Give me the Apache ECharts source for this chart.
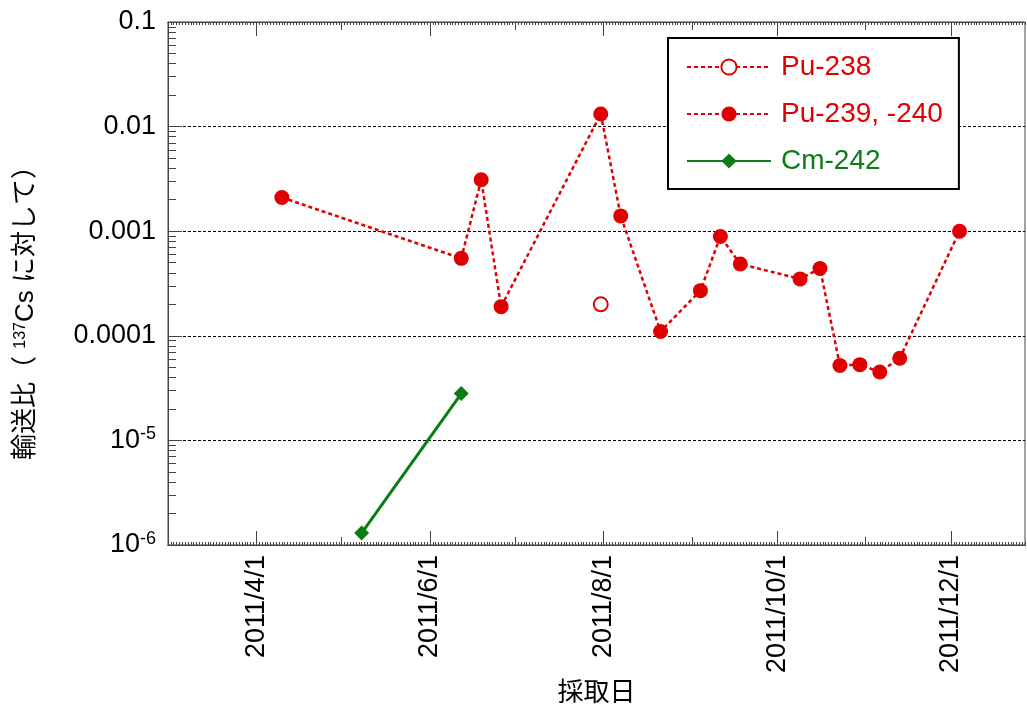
<!DOCTYPE html>
<html>
<head>
<meta charset="utf-8">
<script src="https://cdn.jsdelivr.net/npm/echarts@6/dist/echarts.min.js"></script>
<style>
html,body{margin:0;padding:0;background:#fff;}
#chart{width:1027px;height:712px;}
</style>
</head>
<body>
<div id="chart"></div>
<script>
// ---- data ----
const pu239Dates = ['2011-04-10','2011-06-12','2011-06-19','2011-06-26','2011-07-31','2011-08-07','2011-08-21','2011-09-04','2011-09-11','2011-09-18','2011-10-09','2011-10-16','2011-10-23','2011-10-30','2011-11-06','2011-11-13','2011-12-04'];
const pu239Values = [2.1e-3, 5.5e-4, 3.1e-3, 1.9e-4, 1.32e-2, 1.4e-3, 1.1e-4, 2.7e-4, 8.9e-4, 4.85e-4, 3.5e-4, 4.4e-4, 5.2e-5, 5.3e-5, 4.5e-5, 6.1e-5, 1.0e-3];
const pu238Dates = ['2011-07-31'];
const pu238Values = [2.0e-4];
const cm242Dates = ['2011-05-08','2011-06-12'];
const cm242Values = [1.3e-6, 2.8e-5];

const seriesNames = ['Pu-238', 'Pu-239, -240', 'Cm-242'];
const xLabelDates = ['2011-04-01','2011-06-01','2011-08-01','2011-10-01','2011-12-01'];
const xMinorMonthDates = ['2011-03-01','2011-05-01','2011-07-01','2011-09-01','2011-11-01'];
const xRange = ['2011-03-01','2011-12-27'];
const yRange = [1e-6, 0.1];
const xTitle = '採取日';

// ---- helpers ----
function ts(s){ const p = s.split('-').map(Number); return Date.UTC(p[0], p[1]-1, p[2]); }
function pairs(d, v){ return d.map((x,i)=>[ts(x), v[i]]); }
const DAY = 86400000;
const xMin = ts(xRange[0]), xMax = ts(xRange[1]);
const dailyTicks = [];
for (let t = xMin; t <= xMax; t += DAY) dailyTicks.push(t);
const majorX = xLabelDates.map(ts);
const minorX = xMinorMonthDates.map(ts);
const yMinor = [];
for (let e = -6; e < -1; e++) for (let k = 2; k <= 9; k++) yMinor.push(k * Math.pow(10, e));

const RED = '#e00000';
const GREEN = '#0a7d14';
const AX = '#444';
const FONT = '"Liberation Sans", Arial, sans-serif';
const JFONT = '"Liberation Sans", "Noto Sans CJK JP", sans-serif';

function xAxisDef(pos, ticks, len, withLabels){
  const a = {
    type: 'value', min: xMin, max: xMax, position: pos, scale: true,
    axisLine: {show: true, onZero: false, lineStyle: {color: AX, width: 1}},
    axisTick: {show: true, inside: true, length: len, customValues: ticks, lineStyle: {color: AX, width: 1}},
    axisLabel: {show: false},
    splitLine: {show: false}
  };
  if (withLabels) {
    a.axisLabel = {
      show: true, customValues: majorX, rotate: 90, margin: 10,
      fontSize: 27, color: '#000', fontFamily: FONT,
      formatter: function(v){ const d = new Date(v); return d.getUTCFullYear() + '/' + (d.getUTCMonth()+1) + '/' + d.getUTCDate(); }
    };
    a.name = xTitle;
    a.nameLocation = 'middle';
    a.nameGap = 134;
    a.nameTextStyle = {fontSize: 26, color: '#000', fontFamily: JFONT};
  }
  return a;
}

function yLabel(v){
  const e = Math.round(Math.log10(v));
  if (e >= -4) return '0.' + '0'.repeat(-e - 1) + '1';
  return '{b|10}{s|' + e + '}';
}

const option = {
  animation: false,
  backgroundColor: '#fff',
  grid: {left: 168, right: 2, top: 22, bottom: 167, show: true, borderColor: AX, borderWidth: 1, containLabel: false},
  legend: {
    orient: 'vertical', left: 668, top: 38,
    padding: [15, 16, 14, 18],
    itemWidth: 84, itemHeight: 19, itemGap: 19,
    borderColor: '#000', borderWidth: 2, backgroundColor: '#fff',
    textStyle: {fontSize: 28, fontFamily: FONT, padding: [0, 0, 0, 5]},
    data: [
      {name: seriesNames[0], textStyle: {color: RED}},
      {name: seriesNames[1], textStyle: {color: RED}},
      {name: seriesNames[2], textStyle: {color: GREEN}}
    ]
  },
  xAxis: [
    xAxisDef('bottom', majorX, 14, true),
    xAxisDef('bottom', minorX, 8, false),
    xAxisDef('bottom', dailyTicks, 3, false),
    xAxisDef('top', majorX, 14, false),
    xAxisDef('top', minorX, 8, false),
    xAxisDef('top', dailyTicks, 3, false)
  ],
  yAxis: [
    {
      type: 'log', logBase: 10, min: yRange[0], max: yRange[1], position: 'left',
      axisLine: {show: true, lineStyle: {color: AX, width: 1}},
      axisTick: {show: true, inside: true, length: 14, lineStyle: {color: AX}},
      axisLabel: {
        fontSize: 27, color: '#000', fontFamily: FONT, margin: 12,
        formatter: yLabel,
        rich: {
          b: {fontSize: 27, fontFamily: FONT, color: '#000'},
          s: {fontSize: 18, fontFamily: FONT, color: '#000', verticalAlign: 'top', padding: [0, 0, 12, 0]}
        }
      },
      splitLine: {show: true, lineStyle: {color: '#000', type: [3, 2], width: 1}},
      name: '{t|輸送比（ }{s|137}{t|Cs に対して）}',
      nameLocation: 'middle', nameGap: 129,
      nameTextStyle: {
        padding: [0, 46, 0, 0],
        rich: {
          t: {fontSize: 26, fontFamily: JFONT, color: '#000'},
          s: {fontSize: 16, fontFamily: FONT, color: '#000', verticalAlign: 'top', padding: [0, 0, 10, 0]}
        }
      }
    },
    {
      type: 'log', logBase: 10, min: yRange[0], max: yRange[1], position: 'left',
      axisLine: {show: false},
      axisTick: {show: true, inside: true, length: 8, customValues: yMinor, lineStyle: {color: AX}},
      axisLabel: {show: false},
      splitLine: {show: false}
    }
  ],
  series: [
    {
      name: seriesNames[0], type: 'line', data: pairs(pu238Dates, pu238Values),
      symbol: 'emptyCircle', symbolSize: 14,
      itemStyle: {color: RED, borderColor: RED, borderWidth: 1.5},
      lineStyle: {color: RED, type: [4, 3], width: 2.5}
    },
    {
      name: seriesNames[1], type: 'line', data: pairs(pu239Dates, pu239Values),
      symbol: 'circle', symbolSize: 15,
      itemStyle: {color: RED},
      lineStyle: {color: RED, type: [4, 3], width: 2.5}
    },
    {
      name: seriesNames[2], type: 'line', data: pairs(cm242Dates, cm242Values),
      symbol: 'diamond', symbolSize: 15,
      itemStyle: {color: GREEN},
      lineStyle: {color: GREEN, width: 3}
    }
  ]
};

const chart = echarts.init(document.getElementById('chart'), null, {renderer: 'canvas'});
chart.setOption(option);
</script>
</body>
</html>
